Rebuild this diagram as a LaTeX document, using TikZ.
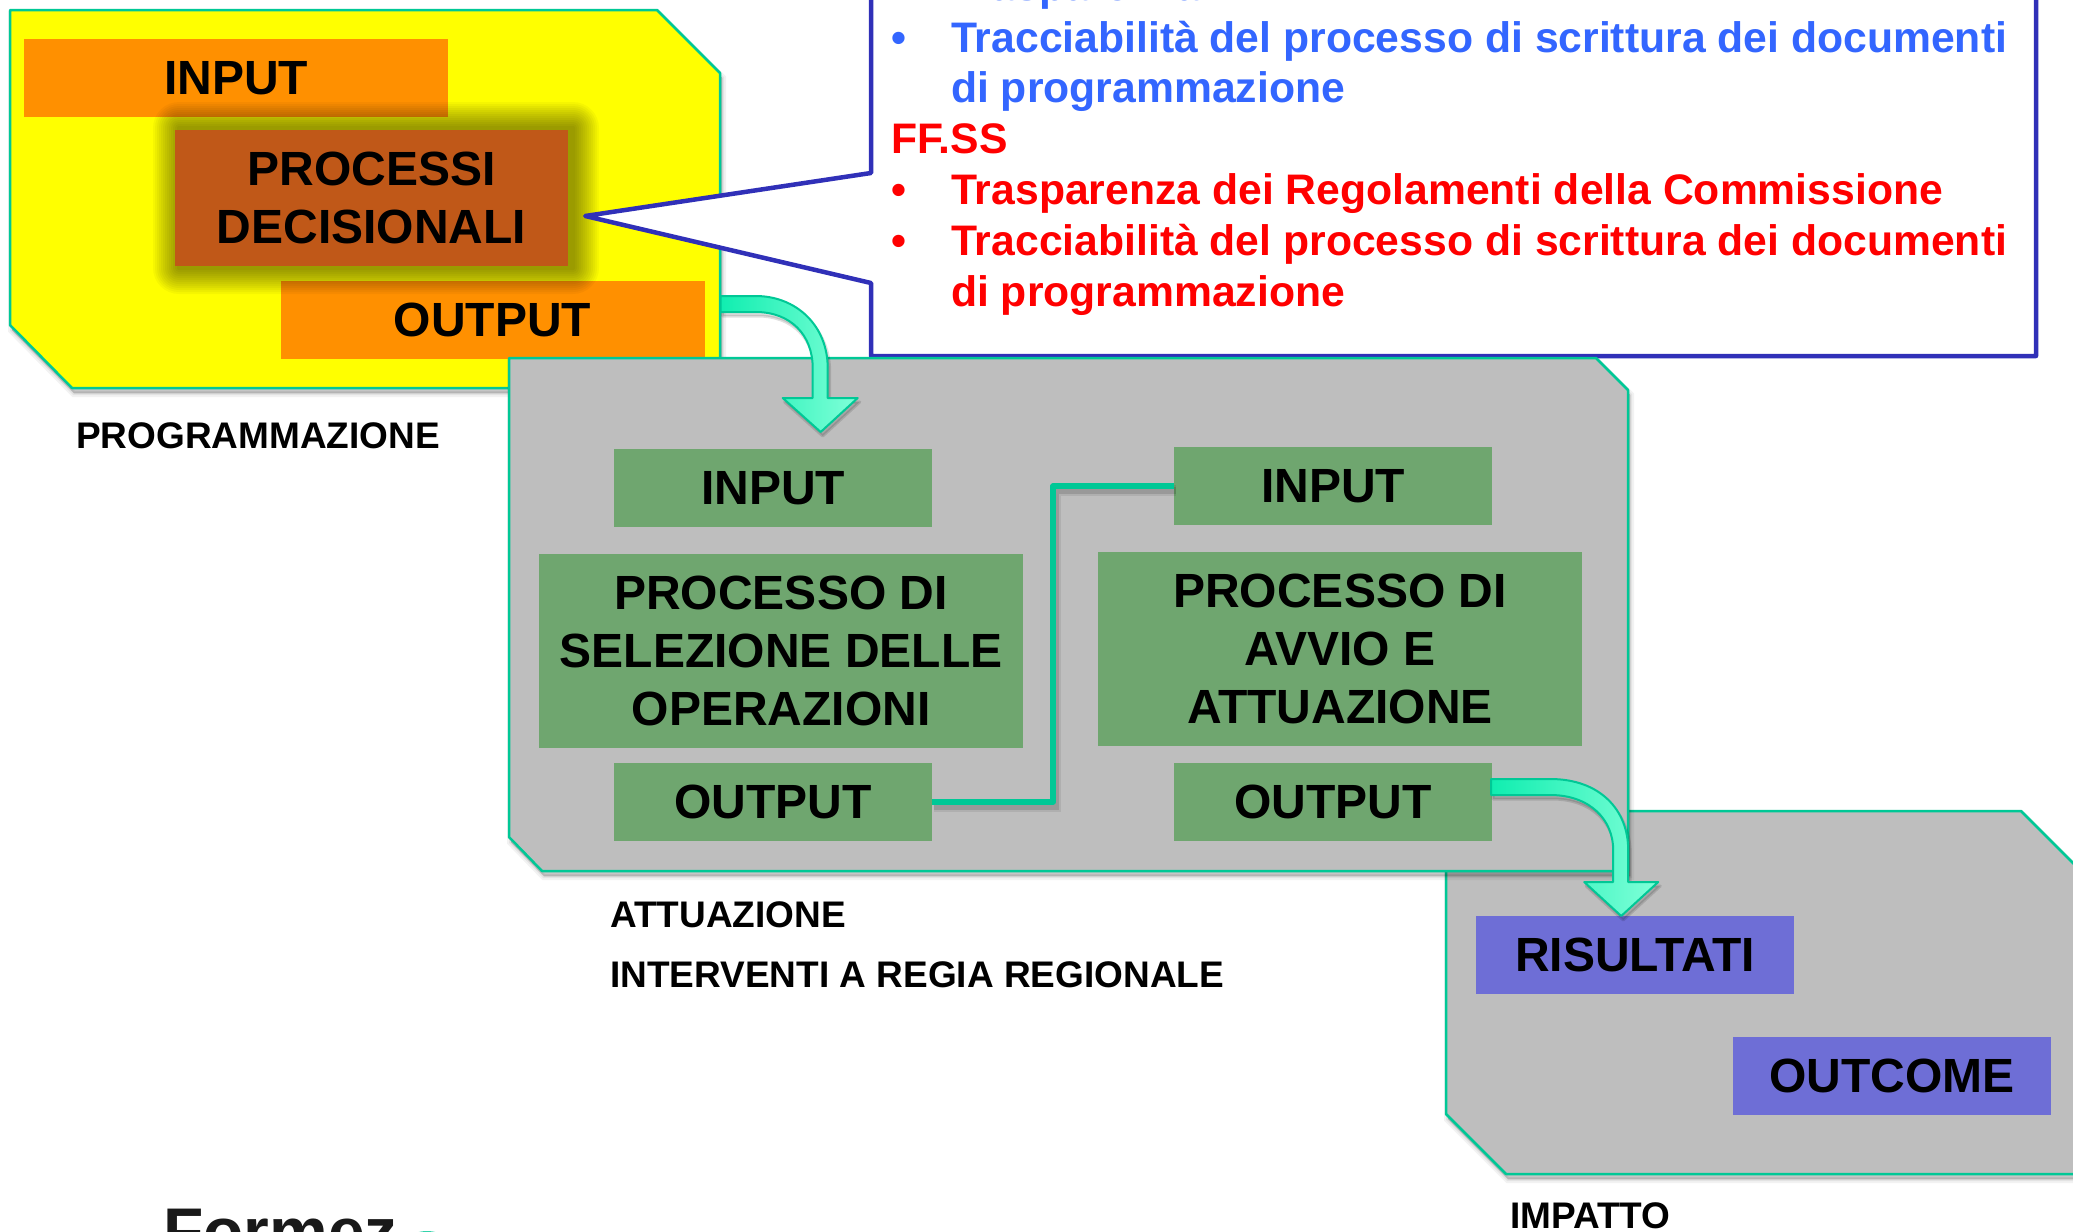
\documentclass[tikz,border=0pt]{standalone}
\usepackage{fontspec}
\setmainfont{Liberation Sans}
\usetikzlibrary{calc}
\definecolor{edgegreen}{HTML}{00C896}
\definecolor{panelyellow}{RGB}{255,255,0}
\definecolor{orangebox}{HTML}{FF9000}
\definecolor{rustbox}{HTML}{C05818}
\definecolor{greenbox}{HTML}{6FA66F}
\definecolor{greypanel}{HTML}{BEBEBE}
\definecolor{bluebox}{HTML}{6E6ED6}
\definecolor{calloutline}{HTML}{3030B8}
\definecolor{bluetext}{HTML}{3366FF}
\definecolor{redtext}{RGB}{255,0,0}
\definecolor{arrowa}{HTML}{10EEB0}
\definecolor{arrowb}{HTML}{80FFD8}
\tikzset{
  softshadow/.style={
    preaction={draw=black,fill=black,opacity=.05,line width=8pt,transform canvas={shift={(2pt,-5pt)}}},
    preaction={draw=black,fill=black,opacity=.06,line width=4pt,transform canvas={shift={(2pt,-5pt)}}},
    preaction={draw=black,fill=black,opacity=.08,line width=1pt,transform canvas={shift={(2pt,-5pt)}}}},
  lineshadow/.style={
    preaction={draw=black,opacity=.08,line width=11pt,transform canvas={shift={(2pt,-4pt)}}},
    preaction={draw=black,opacity=.12,line width=7pt,transform canvas={shift={(2pt,-4pt)}}}},
  panel/.style={draw=edgegreen,line width=2.5pt,line join=round,softshadow},
  boxtext/.style={inner sep=0pt,align=center,font=\fontsize{48}{58}\selectfont\bfseries,text=black},
  orangenode/.style={boxtext,fill=orangebox,minimum width=424pt,minimum height=78pt},
  rustnode/.style={boxtext,fill=rustbox,minimum width=393pt,minimum height=136pt},
  greensmall/.style={boxtext,fill=greenbox,minimum width=318pt,minimum height=78pt},
  greenlarge/.style={boxtext,fill=greenbox,minimum width=484pt,minimum height=194pt},
  bluenode/.style={boxtext,fill=bluebox,minimum width=318pt,minimum height=78pt},
  caption/.style={inner sep=0pt,anchor=mid west,font=\fontsize{37}{37}\selectfont\bfseries,text=black},
  listtext/.style={inner sep=0pt,anchor=base west,font=\fontsize{42.7}{42.7}\selectfont\bfseries},
  link/.style={draw=edgegreen,line width=5.5pt,line join=round,lineshadow},
  bigarrow/.style={draw=edgegreen,line width=2pt,line join=round,left color=arrowa,right color=arrowb},
  arrowshadow/.style={draw=black,fill=black,opacity=.12,line width=3pt,line join=round,transform canvas={shift={(2pt,-4pt)}}}
}
\begin{document}
\begin{tikzpicture}[x=1pt,y=-1pt]
\clip (0,0) rectangle (2073,1232);
\fill[white] (0,0) rectangle (2073,1232);
% Programmazione panel
\path[panel,fill=panelyellow] (10,10) -- (657,10) -- (720,73) -- (720,388) -- (72,388) -- (10,325) -- cycle;
\node[orangenode] (pin) at (236,78) {INPUT};
\node[orangenode] (pout) at (492.5,320) {OUTPUT};
\foreach \d in {26,24,...,2}
  \fill[black,opacity=.035,rounded corners=\d pt] (179-\d,128-\d) rectangle (573+\d,268+\d);
\node[rustnode] (pd) at (371.5,198) {PROCESSI\\DECISIONALI};
% Callout
\coordinate (tip) at ($(pd.east)+(17,18)$);
\path[draw=calloutline,fill=white,line width=4.5pt,line join=round]
  (tip) -- (871,173) -- (871,-20) -- (2036,-20) -- (2036,356) -- (871,356) -- (871,283) -- cycle;
\node[listtext,text=bluetext] (b0) at (951,0) {Trasparenza};
\node[listtext,text=bluetext] (b1b) at (891,52) {•};
\node[listtext,text=bluetext] (b1) at (951,52) {Tracciabilità del processo di scrittura dei documenti};
\node[listtext,text=bluetext] (b2) at (951,102.5) {di programmazione};
\node[listtext,text=redtext] (f0) at (891,153.5) {FF.SS};
\node[listtext,text=redtext] (f1b) at (891,204.5) {•};
\node[listtext,text=redtext] (f1) at (951,204.5) {Trasparenza dei Regolamenti della Commissione};
\node[listtext,text=redtext] (f2b) at (891,255.5) {•};
\node[listtext,text=redtext] (f2) at (951,255.5) {Tracciabilità del processo di scrittura dei documenti};
\node[listtext,text=redtext] (f3) at (951,306.5) {di programmazione};
% Impatto panel
\path[panel,fill=greypanel] (1446,811) -- (2021,811) -- (2090,880) -- (2090,1174) -- (1506,1174) -- (1446,1114) -- cycle;
\node[bluenode] (ris) at (1635,955) {RISULTATI};
\node[bluenode] (outc) at (1892,1076) {OUTCOME};
% Attuazione panel
\path[panel,fill=greypanel] (509,358) -- (1596,358) -- (1628,390) -- (1628,871) -- (542,871) -- (509,837) -- cycle;
\node[greensmall] (ain) at (773,488) {INPUT};
\node[greenlarge] (apr) at (781,651) {PROCESSO DI\\SELEZIONE DELLE\\OPERAZIONI};
\node[greensmall] (aout) at (773,802) {OUTPUT};
\node[greensmall] (bin) at (1333,486) {INPUT};
\node[greenlarge] (bpr) at (1340,649) {PROCESSO DI\\AVVIO E\\ATTUAZIONE};
\node[greensmall] (bout) at (1333,802) {OUTPUT};
% Connectors
\path[link] (aout.east) -- ++(121,0) |- (bin.west);
\coordinate (a1s) at ($(pout.east)+(16,-16)$);
\path[shift={(a1s)},arrowshadow]
  (0,-8) -- (35,-8) .. controls (75,-8) and (107,21) .. (107,64) -- (107,94) -- (137,94) -- (100,128) -- (62,94) -- (92,94) -- (92,64) .. controls (92,31) and (70,8) .. (35,8) -- (0,8) -- cycle;
\path[shift={(a1s)},bigarrow]
  (0,-8) -- (35,-8) .. controls (75,-8) and (107,21) .. (107,64) -- (107,94) -- (137,94) -- (100,128) -- (62,94) -- (92,94) -- (92,64) .. controls (92,31) and (70,8) .. (35,8) -- (0,8) -- cycle;
\coordinate (a2s) at ($(bout.east)+(-1,-15)$);
\path[shift={(a2s)},arrowshadow]
  (0,-8) -- (59,-8) .. controls (109,-8) and (137,23) .. (137,63) -- (137,95) -- (167,95) -- (130,129) -- (93,95) -- (122,95) -- (122,63) .. controls (122,33) and (99,8) .. (59,8) -- (0,8) -- cycle;
\path[shift={(a2s)},bigarrow]
  (0,-8) -- (59,-8) .. controls (109,-8) and (137,23) .. (137,63) -- (137,95) -- (167,95) -- (130,129) -- (93,95) -- (122,95) -- (122,63) .. controls (122,33) and (99,8) .. (59,8) -- (0,8) -- cycle;
% Captions
\node[caption] (c1) at (76,446) {PROGRAMMAZIONE};
\node[caption] (c2) at (610,925) {ATTUAZIONE};
\node[caption] (c3) at (610,985) {INTERVENTI A REGIA REGIONALE};
\node[caption] (c4) at (1510,1226) {IMPATTO};
% Logo remnant at the bottom edge
\node[inner sep=0pt,anchor=base west,font=\fontsize{66}{66}\selectfont\bfseries,text=black!90] (logo) at (163,1254) {Formez};
\fill[edgegreen!80] (427,1238) ellipse (16 and 7);
\end{tikzpicture}
\end{document}
